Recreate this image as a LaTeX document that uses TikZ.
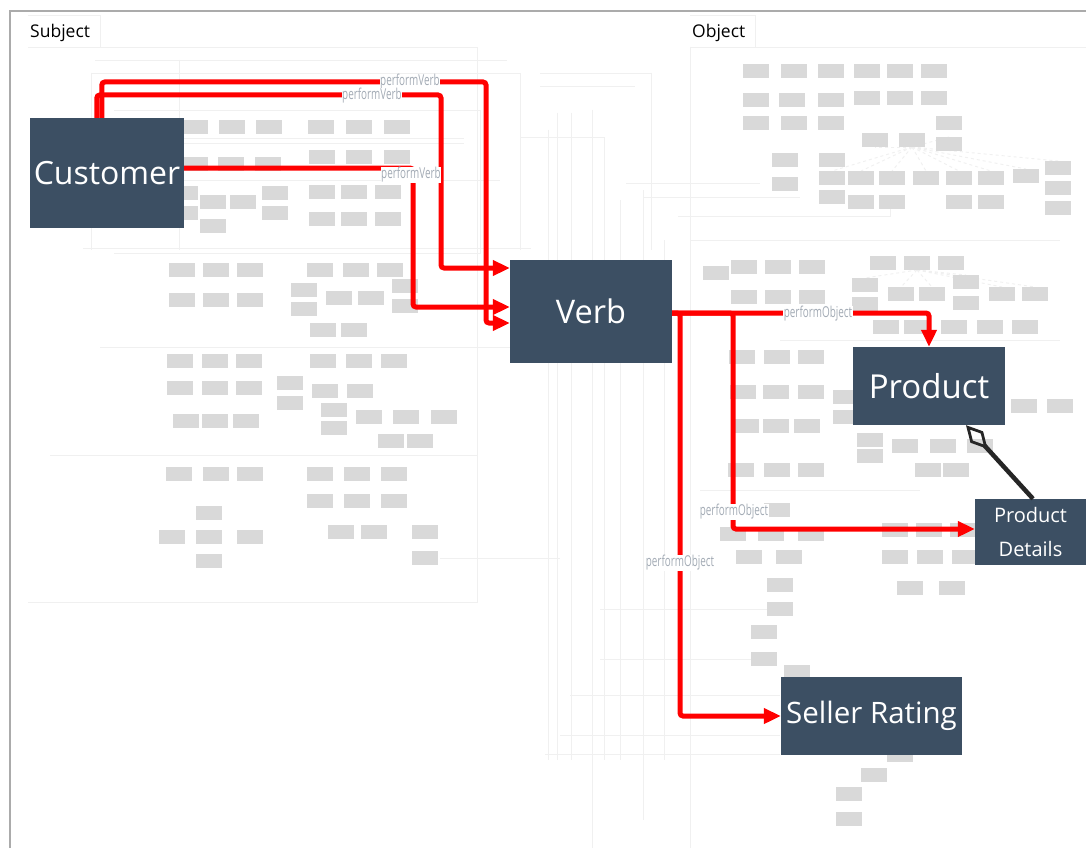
\documentclass[tikz,border=0pt]{standalone}
\usepackage{fontspec}
\setmainfont{Open Sans}
\usetikzlibrary{arrows.meta,calc}
\definecolor{slate}{HTML}{3C4F63}
\definecolor{boxgray}{HTML}{D9D9D9}
\definecolor{faint}{HTML}{F0F0F0}
\definecolor{framegray}{HTML}{ABABAB}
\definecolor{lblgray}{HTML}{A3ABB5}
\newcommand{\narrow}[1]{\scalebox{0.66}[1]{#1}}
\begin{document}
\begin{tikzpicture}[x=1pt,y=-1pt,
  mini/.style={fill=boxgray, draw=none, minimum width=26pt, minimum height=14pt, inner sep=0pt},
  mainbox/.style={fill=slate, draw=none, text=white, inner sep=0pt, align=center},
  faintline/.style={draw=faint, line width=0.9pt},
  relation/.style={draw=red, line width=5pt, rounded corners=3pt, -{Triangle[length=17pt,width=15pt]}},
  lbl/.style={fill=white, text=lblgray, inner sep=0.5pt, font=\fontsize{15}{15}\selectfont},
  head/.style={anchor=west, inner sep=0pt, font=\fontsize{17.5}{17.5}\selectfont},
  partof/.style={draw=black!85, line width=4.5pt, {Diamond[open,length=32pt,width=17pt,line width=2.8pt]}-}
]
\useasboundingbox (0,0) rectangle (1086,848);
\fill[white] (0,0) rectangle (1086,848);

% page frame
\draw[framegray, line width=2pt] (10,848) -- (10,11) -- (1086,11);

% section tabs and containers
\draw[faint, line width=1pt] (28,16) -- (100,16) -- (100,47);
\draw[faint, line width=1pt] (690,16) -- (755,16) -- (755,47);
\node[head] (subj) at (30,33) {Subject};
\node[head] (obj) at (692,33) {Object};
\draw[faintline] (28,47) -- (477,47) -- (477,602) -- (28,602);
\draw[faintline] (690,47) -- (1086,47);
\draw[faintline] (690,47) -- (690,848);

% faint group outlines in the subject area
\draw[faintline] (95,60) -- (507,60);
\draw[faintline] (91,73) -- (520,73) -- (520,250);
\draw[faintline] (91,73) -- (91,250);
\draw[faintline] (114,110) -- (480,110) -- (480,253) -- (114,253);
\draw[faintline] (114,138) -- (464,138);
\draw[faintline] (114,143) -- (464,143);
\draw[faintline] (114,180) -- (500,180);
\draw[faintline] (83,248) -- (531,248);
\draw[faintline] (179,60) -- (179,250);
\draw[faintline] (50,455) -- (477,455);
\draw[faintline] (100,347) -- (560,347);
\draw[faintline] (440,558) -- (560,558);

% faint routing lines in the middle
\foreach \vx/\vt/\vb in {548/130/760, 557/113/760, 571/113/760, 592/110/848, 604/137/760, 620/200/760, 643/190/820, 651/73/250, 664/240/760}
  \draw[faintline] (\vx,\vt) -- (\vx,\vb);
\draw[faintline] (540,73) -- (651,73);
\draw[faintline] (540,86) -- (635,86);
\draw[faintline] (520,137) -- (604,137);
\draw[faintline] (626,183) -- (760,183);
\draw[faintline] (643,197) -- (800,197);
\draw[faintline] (678,216) -- (890,216) -- (890,208);
\draw[faintline] (690,240) -- (1060,240);
\draw[faintline] (570,695) -- (780,695);
\draw[faintline] (560,735) -- (780,735);
\draw[faintline] (545,754) -- (780,754);
\draw[faintline] (600,609) -- (767,609);
\draw[faintline] (600,659) -- (751,659);
\draw[faintline] (700,490) -- (920,490);
\draw[faintline] (780,340) -- (1060,340);

% faint tree links in the object area
\foreach \tx/\ty in {861/171, 892/171, 926/171, 959/171, 991/171, 1026/169, 1058/161, 832/171, 875/147, 949/137}
  \draw[faintline, dashed] (912,147) -- (\tx,\ty);
\foreach \tx/\ty in {865/278, 901/287, 932/287, 966/275, 1002/287, 1035/287}
  \draw[faintline, dashed] (917,270) -- (\tx,\ty);

% small concept boxes: subject area
\foreach \bx/\by [count=\i] in {
  195/127, 232/127, 269/127, 321/127, 359/127, 397/127,
  322/157, 359/157, 397/157,
  195/164, 231/164, 268/164,
  322/192, 354/192, 388/192,
  322/219, 354/219, 388/219,
  185/193, 185/213, 213/202, 243/202, 275/193, 275/213, 213/226,
  182/270, 216/270, 250/270, 320/270, 356/270, 390/270,
  182/300, 216/300, 250/300,
  304/290, 304/309, 339/298, 371/298, 405/286, 405/306,
  323/330, 354/330,
  180/361, 215/361, 249/361, 323/361, 359/361, 394/361,
  180/388, 215/388, 249/388,
  290/383, 290/403, 325/391, 360/391,
  186/421, 215/421, 246/421,
  334/410, 334/428, 369/417, 406/417, 444/417,
  391/441, 420/441,
  179/474, 216/474, 250/474, 320/474, 357/474, 394/474,
  320/501, 357/501, 394/501,
  209/513, 172/537, 209/537, 250/537, 209/561,
  341/532, 374/532, 425/532, 425/558}
  \node[mini] (s\i) at (\bx,\by) {};

% small concept boxes: object area
\foreach \bx/\by [count=\i] in {
  756/71, 794/71, 831/71, 867/71, 900/71, 934/71,
  756/100, 792/100, 831/100, 867/98, 900/98, 934/98,
  756/123, 794/123, 831/123, 949/123,
  875/140, 912/140, 949/144,
  785/160, 785/184, 832/160,
  832/178, 861/178, 892/178, 926/178, 959/178, 991/178, 1026/176,
  1058/168, 1058/188, 1058/208,
  832/197, 861/202, 892/202, 959/202, 991/202,
  883/263, 917/263, 951/263,
  716/273, 744/267, 778/267, 812/267,
  744/297, 778/297, 812/297,
  865/285, 865/304, 901/294, 932/294, 966/282, 966/303, 1002/294, 1035/294,
  886/327, 917/327, 954/327, 990/327, 1025/327,
  742/357, 777/357, 811/357,
  743/392, 776/392, 811/392,
  846/397, 846/417,
  746/426, 776/426, 807/426,
  870/440, 870/456, 905/446, 943/446, 980/446,
  928/470, 956/470,
  1024/406, 1060/406,
  741/470, 777/470, 811/470,
  777/510,
  733/534, 771/534, 811/534,
  895/530, 929/530, 963/530,
  749/557, 789/557, 895/557, 930/557, 965/557,
  780/585, 910/588, 952/588,
  780/609, 764/632, 764/659, 797/672,
  900/755, 874/775, 849/794, 849/819}
  \node[mini] (o\i) at (\bx,\by) {};

% main concepts
\node[mainbox, minimum width=154pt, minimum height=110pt, font=\fontsize{32}{32}\selectfont] (cu) at (107,173) {Customer};
\node[mainbox, minimum width=162pt, minimum height=103pt, font=\fontsize{32.5}{32.5}\selectfont] (vb) at (591,311.5) {Verb};
\node[mainbox, minimum width=152pt, minimum height=78pt, font=\fontsize{33}{33}\selectfont] (pr) at (929,386) {Product};
\node[mainbox, minimum width=111pt, minimum height=66pt, font=\fontsize{20}{34}\selectfont] (pd) at (1030.5,532) {Product\\Details};
\node[mainbox, minimum width=181pt, minimum height=78pt, font=\fontsize{29.5}{29.5}\selectfont] (sr) at (871.5,716) {Seller Rating};

% subject -> verb relations
\draw[relation] ($(cu.north west)+(72,0)$) |- (486,82) |- ($(vb.west)+(0,11.5)$);
\draw[relation] ($(cu.north west)+(67,0)$) |- (441,95) |- ($(vb.west)+(0,-43.5)$);
\draw[relation] ($(cu.east)+(0,-5)$) -| (413,250) |- ($(vb.west)+(0,-4.5)$);

% verb -> object relations
\draw[relation] ($(vb.east)+(0,1.5)$) -| (pr.north);
\draw[relation] ($(vb.east)+(0,1.5)$) -- (733,313) |- ($(pd.west)+(0,-3)$);
\draw[relation] ($(vb.east)+(0,1.5)$) -- (680,313) |- (sr.west);

% relation labels
\node[lbl] (l1) at (410,82) {\narrow{performVerb}};
\node[lbl] (l2) at (372,96) {\narrow{performVerb}};
\node[lbl] (l3) at (411,175) {\narrow{performVerb}};
\node[lbl] (l4) at (818,314) {\narrow{performObject}};
\node[lbl] (l5) at (734,512) {\narrow{performObject}};
\node[lbl] (l6) at (680,563) {\narrow{performObject}};

% product details is part of product
\draw[partof] ($(pr.south)+(37,0)$) -- ($(pd.north)+(2.5,0)$);
\end{tikzpicture}
\end{document}
